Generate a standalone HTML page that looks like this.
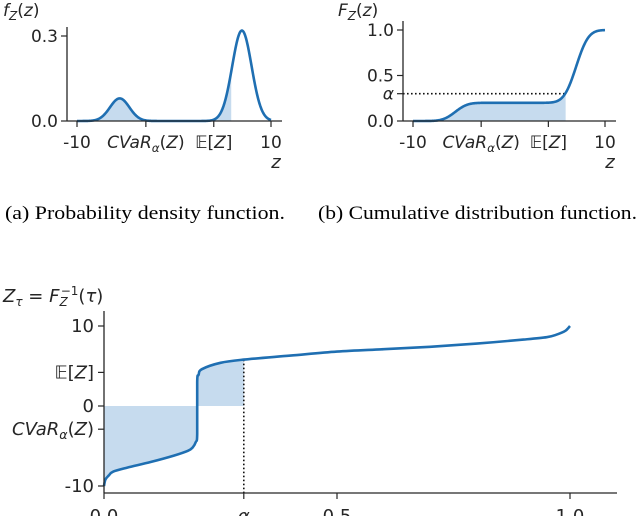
<!DOCTYPE html>
<html><head><meta charset="utf-8"><style>
html,body{margin:0;padding:0;background:#fff;}
svg{display:block;}
text{font-family:"DejaVu Sans","Liberation Sans",sans-serif;fill:#262626;}
.cap{font-family:"Liberation Serif",serif;fill:#000;font-size:19px;}
</style></head><body>
<svg id="fig" width="640" height="516" viewBox="0 0 640 516" xmlns="http://www.w3.org/2000/svg">
<g id="pdf"></g>
<g id="cdf"></g>
<g id="qf"></g>
<text class="cap" x="5" y="219" textLength="280" lengthAdjust="spacingAndGlyphs">(a) Probability density function.</text>
<text class="cap" x="318" y="219" textLength="319" lengthAdjust="spacingAndGlyphs">(b) Cumulative distribution function.</text>
</svg>
<script>
// mixture parameters
const componentMeans = [-5.6, 7.0];
const componentWeights = [0.2, 0.8];
const componentSds = [1.0, 1.0];
const zTicks = [-10, -2.9, 4.1, 10];
const zTickLabels = ["-10", "CVaR", "E", "10"];
const pdfYTicks = [0, 0.3];
const pdfYTickLabels = ["0.0", "0.3"];
const cdfYTicks = [0, 0.3, 0.5, 1.0];
const cdfYTickLabels = ["0.0", "α", "0.5", "1.0"];
const shadeUpTo = 5.9;
const alphaLevel = 0.3;
// quantile curve
const tauValues = [0, 0.003, 0.01, 0.02, 0.05, 0.1, 0.15, 0.18, 0.19, 0.197, 0.2, 0.2, 0.203, 0.21, 0.25, 0.3, 0.4, 0.5, 0.6, 0.7, 0.8, 0.9, 0.95, 0.97, 0.99, 1.0];
const quantileValues = [-10, -9.2, -8.7, -8.2, -7.7, -7.0, -6.2, -5.6, -5.2, -4.5, -3.5, 3.0, 3.9, 4.6, 5.4, 5.8, 6.3, 6.8, 7.1, 7.4, 7.8, 8.3, 8.6, 8.9, 9.4, 10];
const qfXTicks = [0, 0.3, 0.5, 1.0];
const qfXTickLabels = ["0.0", "α", "0.5", "1.0"];
const qfYTicks = [10, 4.2, 0, -2.9, -10];
const qfYTickLabels = ["10", "E", "0", "CVaR", "-10"];

const NS = "http://www.w3.org/2000/svg";
const LINE = "#1f6fb2", FILL = "#c6dbee", AX = "#262626";
function mk(parent, tag, attrs, text){
  const e = document.createElementNS(NS, tag);
  for (const k in attrs) e.setAttribute(k, attrs[k]);
  if (text !== undefined) e.textContent = text;
  parent.appendChild(e); return e;
}
function npdf(x, m, s){ return Math.exp(-0.5*((x-m)/s)**2)/(s*Math.sqrt(2*Math.PI)); }
function erf(x){const t=1/(1+0.3275911*Math.abs(x));const y=1-(((((1.061405429*t-1.453152027)*t)+1.421413741)*t-0.284496736)*t+0.254829592)*t*Math.exp(-x*x);return x>=0?y:-y;}
function ncdf(x,m,s){return 0.5*(1+erf((x-m)/(s*Math.SQRT2)));}
function pdf(z){let v=0;for(let i=0;i<componentMeans.length;i++)v+=componentWeights[i]*npdf(z,componentMeans[i],componentSds[i]);return v;}
function cdf(z){let v=0;for(let i=0;i<componentMeans.length;i++)v+=componentWeights[i]*ncdf(z,componentMeans[i],componentSds[i]);return v;}

function smoothPath(pts){
  let d = "M"+pts[0][0].toFixed(2)+","+pts[0][1].toFixed(2);
  for (let i=0;i<pts.length-1;i++){
    const p0=pts[Math.max(0,i-1)], p1=pts[i], p2=pts[i+1], p3=pts[Math.min(pts.length-1,i+2)];
    const c1=[p1[0]+(p2[0]-p0[0])/6, p1[1]+(p2[1]-p0[1])/6];
    const c2=[p2[0]-(p3[0]-p1[0])/6, p2[1]-(p3[1]-p1[1])/6];
    if (Math.abs(p2[0]-p1[0])<0.01){ c1[0]=p1[0]; c2[0]=p2[0]; }
    d += " C"+c1[0].toFixed(2)+","+c1[1].toFixed(2)+" "+c2[0].toFixed(2)+","+c2[1].toFixed(2)+" "+p2[0].toFixed(2)+","+p2[1].toFixed(2);
  }
  return d;
}

function richLabel(g, x, y, kind, anchor, size, name){
  const t = mk(g, "text", {x:x, y:y, "text-anchor":anchor, "font-size":size});
  
  
  if (kind === "CVaR"){
    mk(t,"tspan",{"font-style":"italic"},"CVaR");
    mk(t,"tspan",{"font-style":"italic","font-size":size*0.7,dy:4},"α");
    mk(t,"tspan",{dy:-4},"(");
    mk(t,"tspan",{"font-style":"italic"},"Z");
    mk(t,"tspan",{},")");
  } else if (kind === "E"){
    mk(t,"tspan",{},"𝔼[");
    mk(t,"tspan",{"font-style":"italic"},"Z");
    mk(t,"tspan",{},"]");
  } else if (kind === "α"){
    mk(t,"tspan",{"font-style":"italic"},"α");
  } else t.textContent = kind;
  return t;
}

function topChart(gid, x0, x1, yTop, yBot, yMax, yTicks, yLabels, fn, isCdf, ylab){
  const g = document.getElementById(gid);
  const xs = z => x0 + (z+10)/20*(x1-x0);
  const ys = v => yBot - v/yMax*(yBot-yTop);
  const spineX = x0 - 10;
  let d = "M"+xs(-10)+","+ys(0);
  for (let z=-10; z<=shadeUpTo+1e-9; z+=0.05) d += " L"+xs(z).toFixed(2)+","+ys(fn(z)).toFixed(2);
  d += " L"+xs(shadeUpTo)+","+ys(fn(shadeUpTo))+" L"+xs(shadeUpTo)+","+ys(0)+"Z";
  const f = mk(g,"path",{d:d, fill:FILL, stroke:"none"});
   
  if (isCdf){
    const dl = mk(g,"line",{x1:spineX,y1:ys(alphaLevel),x2:xs(shadeUpTo),y2:ys(alphaLevel),stroke:"#111","stroke-width":1.6,"stroke-dasharray":"1.6,2.4"});
     
  }
  let p = "";
  for (let z=-10; z<=10.0001; z+=0.05) p += (p?" L":"M")+xs(z).toFixed(2)+","+ys(fn(z)).toFixed(2);
  const ln = mk(g,"path",{d:p, fill:"none", stroke:LINE, "stroke-width":2.6, "stroke-linejoin":"round"});
   
  const ya = mk(g,"line",{x1:spineX,y1:yTop-9,x2:spineX,y2:yBot,stroke:AX,"stroke-width":1.3});
   
  const xa = mk(g,"line",{x1:spineX,y1:yBot,x2:x1+11,y2:yBot,stroke:AX,"stroke-width":1.3});
   
  yTicks.forEach((v,i)=>{
    mk(g,"line",{x1:spineX-6,y1:ys(v),x2:spineX,y2:ys(v),stroke:AX,"stroke-width":1.2});
    richLabel(g, spineX-9, ys(v)+6, yLabels[i], "end", 17, "y-tick-label");
  });
  zTicks.forEach((v,i)=>{
    mk(g,"line",{x1:xs(v),y1:yBot,x2:xs(v),y2:yBot+6,stroke:AX,"stroke-width":1.2});
    richLabel(g, xs(v), yBot+27, zTickLabels[i], "middle", 17, "x-tick-label");
  });
  const yt = mk(g,"text",{x:isCdf ? 338 : 3, y:16, "font-size":17});
   
  mk(yt,"tspan",{"font-style":"italic"}, ylab);
  mk(yt,"tspan",{"font-style":"italic","font-size":12,dy:4},"Z");
  mk(yt,"tspan",{dy:-4},"(");
  mk(yt,"tspan",{"font-style":"italic"},"z");
  mk(yt,"tspan",{},")");
  const xt = mk(g,"text",{x:x1+5,y:168,"font-size":18,"font-style":"italic","text-anchor":"middle"},"z");
   
}
topChart("pdf", 77, 271, 36, 121, 0.3, pdfYTicks, pdfYTickLabels, pdf, false, "f");
topChart("cdf", 413, 605, 30, 121, 1.0, cdfYTicks, cdfYTickLabels, cdf, true, "F");

(function(){
  const g = document.getElementById("qf");
  const X0 = 104, X1 = 570, yBot = 493;
  const xs = t => X0 + t*(X1-X0);
  const ys = z => 406 - z*8.0;
  const pts = tauValues.map((t,i)=>[xs(t), ys(quantileValues[i])]);
  const under = [];
  for (let i=0;i<tauValues.length;i++){ if (tauValues[i] > alphaLevel) break; under.push(pts[i]); }
  let qa = 0;
  for (let i=1;i<tauValues.length;i++){ if (tauValues[i] >= alphaLevel){ const a=tauValues[i-1], b=tauValues[i]; qa = quantileValues[i-1]+(quantileValues[i]-quantileValues[i-1])*(b>a?(alphaLevel-a)/(b-a):1); break; } }
  if (under[under.length-1][0] < xs(alphaLevel)) under.push([xs(alphaLevel), ys(qa)]);
  const area = smoothPath(under) + " L"+xs(alphaLevel)+","+ys(0)+" L"+xs(0)+","+ys(0)+"Z";
  const fa = mk(g,"path",{d:area, fill:FILL, stroke:"none"});
   
  const dl = mk(g,"line",{x1:xs(alphaLevel),y1:ys(qa),x2:xs(alphaLevel),y2:yBot,stroke:"#111","stroke-width":1.6,"stroke-dasharray":"1.6,2.4"});
   
  const ln = mk(g,"path",{d:smoothPath(pts), fill:"none", stroke:LINE, "stroke-width":2.6, "stroke-linejoin":"round"});
   
  const ya = mk(g,"line",{x1:X0,y1:311,x2:X0,y2:yBot,stroke:AX,"stroke-width":1.3});
   
  const xa = mk(g,"line",{x1:X0,y1:yBot,x2:617,y2:yBot,stroke:AX,"stroke-width":1.3});
   
  qfYTicks.forEach((v,i)=>{
    mk(g,"line",{x1:X0-6,y1:ys(v),x2:X0,y2:ys(v),stroke:AX,"stroke-width":1.2});
    richLabel(g, X0-10, ys(v)+6, qfYTickLabels[i], "end", 18, "y-tick-label");
  });
  qfXTicks.forEach((v,i)=>{
    mk(g,"line",{x1:xs(v),y1:yBot,x2:xs(v),y2:yBot+6,stroke:AX,"stroke-width":1.2});
    richLabel(g, xs(v), 522, qfXTickLabels[i], "middle", 18, "x-tick-label");
  });
  const yt = mk(g,"text",{x:3,y:302,"font-size":18});
   
  mk(yt,"tspan",{"font-style":"italic"},"Z");
  mk(yt,"tspan",{"font-style":"italic","font-size":12,dy:4},"τ");
  mk(yt,"tspan",{dy:-4}," = ");
  mk(yt,"tspan",{"font-style":"italic"},"F");
  mk(yt,"tspan",{"font-style":"italic","font-size":12,dy:4},"Z");
  mk(yt,"tspan",{"font-size":12,dy:-11,dx:-7},"−1");
  mk(yt,"tspan",{dy:7},"(");
  mk(yt,"tspan",{"font-style":"italic"},"τ");
  mk(yt,"tspan",{},")");
})();
</script>
</body></html>
